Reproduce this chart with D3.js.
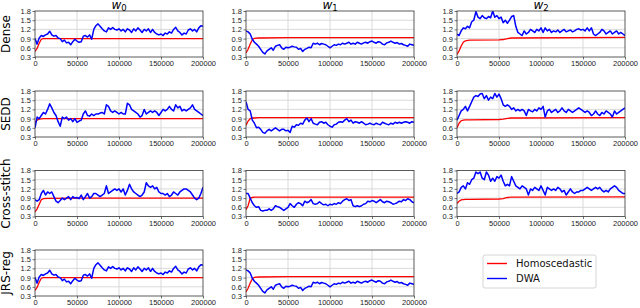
<!DOCTYPE html>
<html>
<head>
<meta charset="utf-8">
<script src="https://cdn.jsdelivr.net/npm/d3@7"></script>
<style>
  body { margin: 0; background: white; }
  svg { font-family: "DejaVu Sans", sans-serif; }
  .tick text { fill: #222; font-size: 7.5px; }
</style>
</head>
<body>
<svg id="chart" width="640" height="308"></svg>
<script>
const STEP = 2500
const X_MAX = 200000
const Y_TICKS = [0.3, 0.6, 0.9, 1.2, 1.5, 1.8]
const X_TICKS = [0, 50000, 100000, 150000, 200000]

const ROW_NAMES = ["Dense", "SEDD", "Cross-stitch", "JRS-reg"]
const COL_NAMES = ["0", "1", "2"]
const LEGEND_NAMES = ["Homoscedastic", "DWA"]

//x positions used by the red (homoscedastic) curves
const redX = [0, 2500, 5000, 7500, 10000, 15000, 50000, 55000, 60000, 65000, 200000]

const denseW0Red = [0.48, 0.58, 0.75, 0.88, 0.9, 0.9, 0.9, 0.9, 0.9, 0.9, 0.9]
const denseW1Red = [0.43, 0.55, 0.72, 0.86, 0.91, 0.92, 0.93, 0.93, 0.93, 0.93, 0.93]
const denseW2Red = [0.38, 0.5, 0.66, 0.78, 0.83, 0.85, 0.86, 0.87, 0.9, 0.92, 0.94]
const seddW0Red = [0.78, 0.85, 0.88, 0.89, 0.9, 0.9, 0.9, 0.9, 0.9, 0.9, 0.9]
const seddW1Red = [0.68, 0.82, 0.9, 0.92, 0.92, 0.93, 0.93, 0.93, 0.93, 0.93, 0.93]
const seddW2Red = [0.6, 0.75, 0.83, 0.85, 0.86, 0.86, 0.87, 0.88, 0.91, 0.92, 0.93]
const csW0Red = [0.45, 0.55, 0.7, 0.85, 0.88, 0.89, 0.9, 0.9, 0.9, 0.9, 0.9]
const csW1Red = [0.52, 0.65, 0.9, 0.92, 0.93, 0.93, 0.93, 0.93, 0.93, 0.93, 0.93]
const csW2Red = [0.72, 0.8, 0.84, 0.85, 0.86, 0.86, 0.87, 0.88, 0.92, 0.93, 0.94]

//blue (DWA) curves, one value every 2500 steps
const denseW0 = [0.9, 0.72, 0.92, 1.0, 0.97, 1.02, 1.05, 1.14, 1.02, 0.98,
  1.0, 0.92, 0.9, 0.8, 0.85, 0.76, 0.78, 0.7, 0.8, 0.88,
  0.82, 0.78, 0.8, 0.98, 1.0, 0.95, 1.02, 0.88, 1.2, 1.32,
  1.38, 1.3, 1.22, 1.15, 1.12, 1.25, 1.2, 1.26, 1.2, 1.18,
  1.22, 1.15, 1.2, 1.12, 1.22, 1.18, 1.1, 1.22, 1.15, 1.25,
  1.18, 1.1, 1.2, 1.15, 1.22, 1.1, 1.2, 1.1, 1.05, 1.02,
  1.05, 1.0, 1.08, 1.05, 1.12, 1.08, 1.2, 1.27, 1.15, 1.1,
  1.02, 1.08, 1.05, 1.18, 1.22, 1.15, 1.2, 1.12, 1.25, 1.32, 1.3]
const denseW1 = [1.15, 1.12, 1.05, 0.88, 0.78, 0.72, 0.65, 0.55, 0.45, 0.4,
  0.5, 0.55, 0.6, 0.52, 0.65, 0.68, 0.7, 0.6, 0.55, 0.62,
  0.6, 0.62, 0.65, 0.63, 0.62, 0.55, 0.58, 0.48, 0.55, 0.58,
  0.62, 0.6, 0.75, 0.72, 0.75, 0.7, 0.74, 0.72, 0.7, 0.65,
  0.6, 0.65, 0.7, 0.68, 0.72, 0.7, 0.75, 0.72, 0.75, 0.78,
  0.72, 0.75, 0.72, 0.78, 0.75, 0.72, 0.76, 0.78, 0.75, 0.8,
  0.82, 0.78, 0.75, 0.8, 0.78, 0.72, 0.7, 0.76, 0.78, 0.82,
  0.78, 0.75, 0.77, 0.72, 0.74, 0.7, 0.68, 0.65, 0.72, 0.7, 0.68]
const denseW2 = [1.05, 1.0, 1.15, 1.25, 1.22, 1.3, 1.25, 1.45, 1.5, 1.78,
  1.6, 1.55, 1.65, 1.58, 1.55, 1.62, 1.58, 1.8, 1.6, 1.65,
  1.55, 1.6, 1.42, 1.5, 1.4, 1.5, 1.62, 1.65, 1.3, 1.1,
  1.05, 1.0, 1.15, 1.05, 1.1, 1.2, 1.15, 1.1, 1.2, 1.15,
  1.25, 1.1, 1.25, 1.15, 1.2, 1.1, 1.15, 1.12, 1.18, 1.1,
  1.15, 1.2, 1.12, 1.15, 1.18, 1.12, 1.15, 1.2, 1.22, 1.18,
  1.2, 1.15, 1.25, 1.15, 1.25, 1.05, 1.0, 1.05, 1.1, 1.2,
  1.15, 1.05, 1.1, 1.15, 1.05, 1.1, 1.15, 1.05, 1.1, 1.05, 1.0]
const seddW0 = [0.6, 0.95, 0.9, 1.0, 1.1, 1.05, 1.2, 1.38, 1.25, 1.1,
  1.0, 0.8, 0.65, 0.95, 0.9, 0.95, 0.85, 0.9, 0.8, 0.9,
  0.78, 0.82, 0.85, 1.05, 1.15, 1.0, 0.98, 1.05, 1.0, 1.05,
  1.05, 1.08, 1.1, 1.05, 1.35, 1.3, 1.15, 1.1, 1.15, 1.1,
  1.05, 1.1, 1.05, 1.05, 1.4, 1.35, 1.2, 1.15, 1.1, 1.05,
  0.95, 1.0, 1.2, 1.05, 1.1, 1.15, 1.1, 1.15, 1.1, 1.0,
  1.1, 1.2, 1.15, 1.2, 1.3, 1.2, 1.15, 1.35, 1.25, 1.3,
  1.15, 1.2, 1.15, 1.2, 1.25, 1.35, 1.2, 1.15, 1.1, 1.05, 1.0]
const seddW1 = [1.45, 1.2, 1.15, 0.85, 0.75, 0.6, 0.62, 0.55, 0.45, 0.42,
  0.5, 0.55, 0.5, 0.55, 0.6, 0.55, 0.5, 0.55, 0.55, 0.5,
  0.52, 0.45, 0.65, 0.62, 0.7, 0.68, 0.75, 0.72, 0.85, 0.92,
  0.8, 0.9, 0.75, 0.72, 0.7, 0.78, 0.8, 0.75, 0.78, 0.7,
  0.65, 0.62, 0.7, 0.72, 0.78, 0.8, 0.78, 0.85, 0.9, 0.8,
  0.85, 0.75, 0.8, 0.78, 0.75, 0.8, 0.75, 0.7, 0.72, 0.75,
  0.72, 0.7, 0.75, 0.72, 0.7, 0.78, 0.75, 0.72, 0.7, 0.75,
  0.72, 0.78, 0.75, 0.78, 0.75, 0.78, 0.8, 0.78, 0.75, 0.8, 0.78]
const seddW2 = [0.85, 1.0, 1.15, 1.2, 1.3, 1.15, 1.3, 1.45, 1.6, 1.65,
  1.62, 1.7, 1.72, 1.55, 1.65, 1.5, 1.6, 1.55, 1.72, 1.6,
  1.7, 1.55, 1.35, 1.3, 1.35, 1.3, 1.2, 1.25, 1.15, 1.2,
  1.15, 1.2, 1.15, 1.0, 1.2, 1.15, 1.12, 1.2, 1.15, 1.25,
  1.2, 1.3, 0.95, 1.15, 1.2, 1.1, 1.15, 1.2, 1.1, 1.15,
  1.25, 1.15, 1.1, 1.2, 1.15, 1.1, 1.15, 1.2, 1.25, 1.2,
  1.15, 1.1, 1.15, 1.1, 1.0, 1.05, 1.15, 1.05, 1.0, 1.1,
  1.05, 1.15, 1.1, 1.05, 0.95, 1.15, 1.05, 1.1, 1.15, 1.2, 1.25]
const csW0 = [0.85, 0.8, 0.85, 1.05, 1.15, 1.0, 1.1, 1.05, 1.1, 0.95,
  0.8, 0.75, 0.82, 0.9, 0.85, 0.9, 0.95, 0.85, 0.95, 0.9,
  0.92, 0.88, 1.0, 0.85, 0.95, 1.05, 0.9, 0.95, 1.05, 1.05,
  1.0, 0.95, 1.0, 1.05, 1.3, 1.05, 1.1, 1.15, 1.2, 1.15,
  1.2, 1.1, 1.2, 1.0, 1.15, 1.35, 1.2, 1.1, 1.05, 1.0,
  0.95, 1.0, 1.1, 1.4, 1.3, 1.25, 1.3, 1.2, 1.25, 1.1,
  1.05, 1.05, 1.0, 1.05, 0.95, 1.0, 1.1, 1.05, 1.0, 1.1,
  1.15, 1.2, 1.2, 1.15, 1.1, 1.0, 0.9, 0.85, 0.9, 1.05, 1.25]
const csW1 = [1.05, 1.05, 0.9, 0.75, 0.65, 0.6, 0.62, 0.5, 0.48, 0.5,
  0.5, 0.55, 0.5, 0.55, 0.65, 0.62, 0.6, 0.55, 0.5, 0.55,
  0.6, 0.72, 0.65, 0.6, 0.7, 0.75, 0.72, 0.65, 0.8, 0.75,
  0.78, 0.85, 0.72, 0.7, 0.72, 0.78, 0.72, 0.68, 0.7, 0.65,
  0.7, 0.68, 0.72, 0.7, 0.75, 0.72, 0.8, 0.85, 0.88, 0.82,
  0.85, 0.65, 0.62, 0.65, 0.62, 0.65, 0.7, 0.72, 0.8, 0.78,
  0.82, 0.8, 0.75, 0.8, 0.85, 0.78, 0.75, 0.8, 0.78, 0.75,
  0.7, 0.72, 0.75, 0.8, 0.78, 0.85, 0.82, 0.88, 0.85, 0.78, 0.75]
const csW2 = [1.05, 1.1, 1.25, 1.3, 1.2, 1.4, 1.35, 1.5, 1.55, 1.75,
  1.7, 1.75, 1.55, 1.5, 1.75, 1.65, 1.45, 1.55, 1.45, 1.6,
  1.55, 1.65, 1.45, 1.3, 1.35, 1.3, 1.6, 1.45, 1.3, 1.25,
  1.2, 1.3, 1.25, 1.2, 1.0, 1.2, 1.15, 1.25, 1.2, 1.15,
  1.3, 1.15, 1.0, 1.25, 1.2, 1.15, 1.2, 1.15, 1.25, 1.2,
  1.1, 1.15, 1.0, 1.1, 1.2, 1.1, 1.05, 1.1, 1.1, 1.15,
  1.15, 1.2, 1.25, 1.2, 1.15, 1.2, 1.25, 1.2, 1.25, 1.15,
  1.1, 1.15, 1.1, 1.2, 1.25, 1.3, 1.25, 1.15, 1.1, 1.05, 1.05]

//JRS-reg panels show the same runs as Dense
const jrsW0 = denseW0, jrsW0Red = denseW0Red
const jrsW1 = denseW1, jrsW1Red = denseW1Red

const panels = [
  [[denseW0Red, denseW0], [denseW1Red, denseW1], [denseW2Red, denseW2]],
  [[seddW0Red, seddW0], [seddW1Red, seddW1], [seddW2Red, seddW2]],
  [[csW0Red, csW0], [csW1Red, csW1], [csW2Red, csW2]],
  [[jrsW0Red, jrsW0], [jrsW1Red, jrsW1]]
]

const COL_LEFT = [35, 246, 457]
const ROW_TOP = [11, 91, 170.5, 250]
const PW = 168, PH = 46

const svg = d3.select("#chart")

const x = d3.scaleLinear().domain([0, X_MAX]).range([0, PW])
const y = d3.scaleLinear().domain([0.3, 1.8]).range([PH, 0])

svg.append("defs").append("clipPath").attr("id", "clip")
  .append("rect").attr("width", PW).attr("height", PH)

panels.forEach((row, r) => {
  row.forEach((pair, c) => {
    const g = svg.append("g").attr("transform", `translate(${COL_LEFT[c]},${ROW_TOP[r]})`)

    //axes (ticks + labels)
    const xAxis = g.append("g").attr("transform", `translate(0,${PH})`)
      .call(d3.axisBottom(x).tickValues(X_TICKS).tickFormat(d3.format("d")).tickSize(2.5).tickPadding(1.5))
    const yAxis = g.append("g")
      .call(d3.axisLeft(y).tickValues(Y_TICKS).tickFormat(d3.format(".1f")).tickSize(2.5).tickPadding(1.5))
    xAxis.select(".domain").remove()
    yAxis.select(".domain").remove()
    xAxis.selectAll(".tick line").attr("stroke", "#333").attr("stroke-width", 0.7)
    yAxis.selectAll(".tick line").attr("stroke", "#333").attr("stroke-width", 0.7)

    //grid
    g.append("g").selectAll("line").data(X_TICKS.slice(1, -1)).join("line")
      .attr("x1", d => x(d)).attr("x2", d => x(d)).attr("y1", 0).attr("y2", PH)
      .attr("stroke", "#d6d6d6").attr("stroke-width", 0.9)
    g.append("g").selectAll("line").data(Y_TICKS.slice(1, -1)).join("line")
      .attr("x1", 0).attr("x2", PW).attr("y1", d => y(d)).attr("y2", d => y(d))
      .attr("stroke", "#d6d6d6").attr("stroke-width", 0.9)

    const lines = g.append("g").attr("clip-path", "url(#clip)")
    const redLine = d3.line().x((d, i) => x(redX[i])).y(d => y(d))
    const blueLine = d3.line().x((d, i) => x(i * STEP)).y(d => y(d))

    lines.append("path").datum(pair[0]).attr("d", redLine)
      .attr("fill", "none").attr("stroke", "#ff0000").attr("stroke-width", 1.3)
    lines.append("path").datum(pair[1]).attr("d", blueLine)
      .attr("fill", "none").attr("stroke", "#0000ff").attr("stroke-width", 1.5)
      .attr("stroke-linejoin", "round")

    g.append("rect").attr("width", PW).attr("height", PH)
      .attr("fill", "none").attr("stroke", "#333").attr("stroke-width", 0.8)

    g.selectAll(".tick text").style("font-size", "7.5px").attr("fill", "#222")

    if(r == 0){
      const t = g.append("text").attr("x", PW / 2).attr("y", -2)
        .attr("text-anchor", "middle").style("font-size", "12px").style("font-style", "italic")
      t.append("tspan").text("w")
      t.append("tspan").attr("dy", 2).style("font-size", "8.5px").style("font-style", "normal").text(COL_NAMES[c])
    }
    if(c == 0){
      g.append("text")
        .attr("transform", `translate(-25,${PH / 2}) rotate(-90)`)
        .attr("text-anchor", "middle")
        .style("font-size", "12px")
        .text(ROW_NAMES[r])
    }
  })
})

//legend
const legend = svg.append("g").attr("transform", "translate(483,255)")
legend.append("rect").attr("width", 113).attr("height", 33).attr("rx", 2)
  .attr("fill", "white").attr("stroke", "#ccc").attr("stroke-width", 0.8)
const legendColors = ["#ff0000", "#0000ff"]
LEGEND_NAMES.forEach((name, i) => {
  const yy = 8.5 + i * 15
  legend.append("line").attr("x1", 4).attr("x2", 24).attr("y1", yy).attr("y2", yy)
    .attr("stroke", legendColors[i]).attr("stroke-width", 1.4)
  legend.append("text").attr("x", 33).attr("y", yy + 3.5)
    .style("font-size", "10px").attr("fill", "#111").text(name)
})
</script>
</body>
</html>
